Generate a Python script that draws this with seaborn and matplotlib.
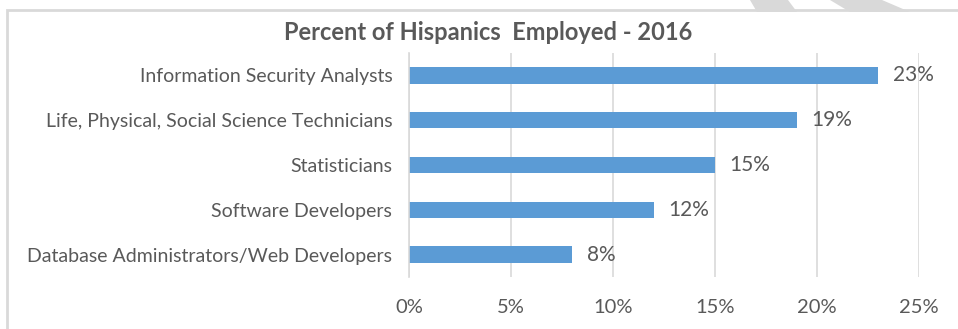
import matplotlib
matplotlib.use("Agg")
import matplotlib.pyplot as plt
import seaborn as sns
import pandas as pd
from matplotlib.patches import Polygon, Rectangle

categories = [
    "Information Security Analysts",
    "Life, Physical, Social Science Technicians",
    "Statisticians",
    "Software Developers",
    "Database Administrators/Web Developers",
]
values = [23, 19, 15, 12, 8]
value_labels = ["23%", "19%", "15%", "12%", "8%"]
xticks = [0, 5, 10, 15, 20, 25]
xtick_labels = ["0%", "5%", "10%", "15%", "20%", "25%"]
title = "Percent of Hispanics  Employed - 2016"

sns.set_theme(style="white")
plt.rcParams["font.family"] = ["Lato", "DejaVu Sans"]

W, H = 958, 329
fig = plt.figure(figsize=(W / 100, H / 100), dpi=100)
ax = fig.add_axes([409 / W, 1 - 277 / H, (919 - 409) / W, (277 - 53) / H])

df = pd.DataFrame({"cat": categories, "val": values})
sns.barplot(data=df, x="val", y="cat", ax=ax, color="#5B9BD5", saturation=1,
            width=0.37, orient="h", linewidth=0)

ax.set_xlim(0, 25)
ax.set_ylim(4.5, -0.5)
ax.set_xticks(xticks)
ax.set_xticklabels(xtick_labels)
ax.xaxis.grid(True, color="#d9d9d9", linewidth=1.2)
ax.set_axisbelow(True)
for s in ["top", "right", "bottom"]:
    ax.spines[s].set_visible(False)
ax.spines["left"].set_color("#d9d9d9")
ax.spines["left"].set_linewidth(1.2)
ax.set_xlabel("")
ax.set_ylabel("")
ax.tick_params(axis="x", length=0, pad=16, labelsize=14.5, labelcolor="#595959")
ax.tick_params(axis="y", length=0, pad=12, labelsize=14, labelcolor="#595959")

for i, (v, lab) in enumerate(zip(values, value_labels)):
    ax.text(v + 0.72, i, lab, va="center", ha="left", fontsize=15, color="#595959")

fig.text(488 / W, 1 - 33 / H, title, ha="center", va="center", fontsize=17,
         fontweight="bold", color="#595959")

# chart border
fig.patches.append(Rectangle((7 / W, -0.1), 1.2, 1 - 10 / H + 0.1, transform=fig.transFigure,
                             fill=False, edgecolor="#d9d9d9", linewidth=2, zorder=0))

# watermark stripes
def px(x, y):
    return (x / W, 1 - y / H)

for poly in ([(750, 0), (788, 0), (797, 12), (757, 12)],
             [(830, 0), (882, 0), (910, 12), (850, 12)]):
    fig.patches.append(Polygon([px(*p) for p in poly], closed=True, transform=fig.transFigure,
                               facecolor="#d9d9d9", edgecolor="none", zorder=1))

fig.savefig("out.png", dpi=100)
